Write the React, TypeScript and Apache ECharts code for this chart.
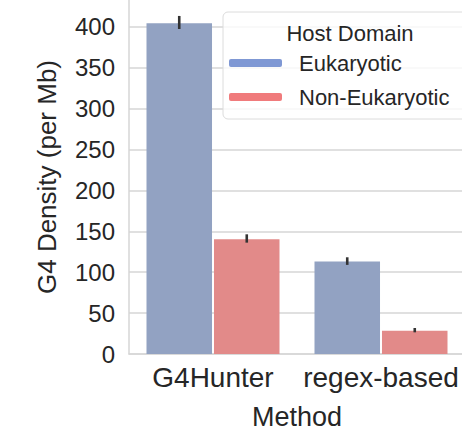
import React, { useEffect, useRef } from "react";
import * as echarts from "echarts";

const methods = ["G4Hunter", "regex-based"];
const domains = ["Eukaryotic", "Non-Eukaryotic"];
const eukMean = [404.5, 113];
const eukLow = [397.5, 109];
const eukHigh = [413.5, 118.3];
const nonEukMean = [140.3, 28.5];
const nonEukLow = [136.2, 26.5];
const nonEukHigh = [146.4, 31.8];
const yTicks = [0, 50, 100, 150, 200, 250, 300, 350, 400];

const barColors = ["#92a2c2", "#e28a89"];
const legendColors = ["#7f98d4", "#f07b7c"];
const FONT = "'Liberation Sans', Arial, sans-serif";
const TEXT = "#262626";
const GRID = "#d6d6d6";

const BAR_FRAC = 0.39;
const BAR_GAP_PX = 2;

function errorSeries(hue: number, low: number[], high: number[]) {
  return {
    type: "custom",
    name: "err-" + hue,
    silent: true,
    z: 5,
    data: methods.map((_, i) => [i, low[i], high[i]]),
    renderItem: (_params: any, api: any) => {
      const ci = api.value(0);
      const p1 = api.coord([ci, api.value(1)]);
      const p2 = api.coord([ci, api.value(2)]);
      const band = api.size([1, 0])[0];
      const off = (hue === 0 ? -1 : 1) * ((band * BAR_FRAC) / 2 + BAR_GAP_PX / 2);
      return {
        type: "line",
        shape: { x1: p1[0] + off, y1: p1[1], x2: p2[0] + off, y2: p2[1] },
        style: { stroke: "#333333", lineWidth: 2.6 },
      };
    },
  };
}

export default function App() {
  const ref = useRef<HTMLDivElement>(null);

  useEffect(() => {
    if (!ref.current) return;
    const chart = echarts.init(ref.current, undefined, { renderer: "svg" });
    chart.setOption({
      animation: false,
      backgroundColor: "#ffffff",
      textStyle: { fontFamily: FONT, color: TEXT },
      grid: {
        left: 129,
        top: 0,
        width: 336,
        height: 354,
        containLabel: false,
        outerBoundsMode: "none",
      },
      title: {
        text: "Host Domain",
        left: 345,
        top: 17,
        textAlign: "center",
        textStyle: { fontFamily: FONT, fontSize: 22, fontWeight: "normal", color: TEXT },
      },
      legend: {
        orient: "vertical",
        left: 223,
        top: 12,
        padding: [40, 30, 11, 6],
        itemGap: 12,
        itemWidth: 53,
        itemHeight: 8,
        icon: "roundRect",
        backgroundColor: "rgba(255,255,255,0.8)",
        borderColor: "#dcdcdc",
        borderWidth: 1,
        borderRadius: 5,
        textStyle: { fontFamily: FONT, fontSize: 22, color: TEXT, padding: [0, 0, 0, 12] },
        data: domains.map((d, i) => ({ name: d, itemStyle: { color: legendColors[i] } })),
      },
      xAxis: {
        type: "category",
        data: methods,
        name: "Method",
        nameLocation: "middle",
        nameGap: 49,
        nameTextStyle: { fontFamily: FONT, fontSize: 27, lineHeight: 27, color: TEXT },
        axisLine: { lineStyle: { color: GRID, width: 1.5 } },
        axisTick: { show: false },
        axisLabel: { fontFamily: FONT, fontSize: 28, color: TEXT, margin: 9, interval: 0, hideOverlap: false },
        splitLine: { show: false },
      },
      yAxis: {
        type: "value",
        min: 0,
        max: 433,
        interval: 50,
        name: "G4 Density (per Mb)",
        nameLocation: "middle",
        nameGap: 69,
        nameTextStyle: { fontFamily: FONT, fontSize: 26, color: TEXT },
        axisLine: { show: true, lineStyle: { color: GRID, width: 1.5 } },
        axisTick: { show: false },
        axisLabel: {
          fontFamily: FONT,
          fontSize: 24,
          color: TEXT,
          margin: 14,
          showMaxLabel: false,
          formatter: (v: number) => (yTicks.includes(v) ? String(v) : ""),
        },
        splitLine: { show: true, showMaxLine: false, lineStyle: { color: GRID, width: 1.5 } },
      },
      series: [
        {
          type: "bar",
          name: domains[0],
          data: eukMean,
          barWidth: BAR_FRAC * 100 + "%",
          barGap: "3%",
          itemStyle: { color: barColors[0] },
        },
        {
          type: "bar",
          name: domains[1],
          data: nonEukMean,
          barWidth: BAR_FRAC * 100 + "%",
          barGap: "3%",
          itemStyle: { color: barColors[1] },
        },
        errorSeries(0, eukLow, eukHigh),
        errorSeries(1, nonEukLow, nonEukHigh),
      ],
    });
    return () => chart.dispose();
  }, []);

  return (
    <div
      ref={ref}
      style={{ position: "fixed", left: 0, top: 0, width: 462, height: 431, background: "#fff" }}
    />
  );
}
